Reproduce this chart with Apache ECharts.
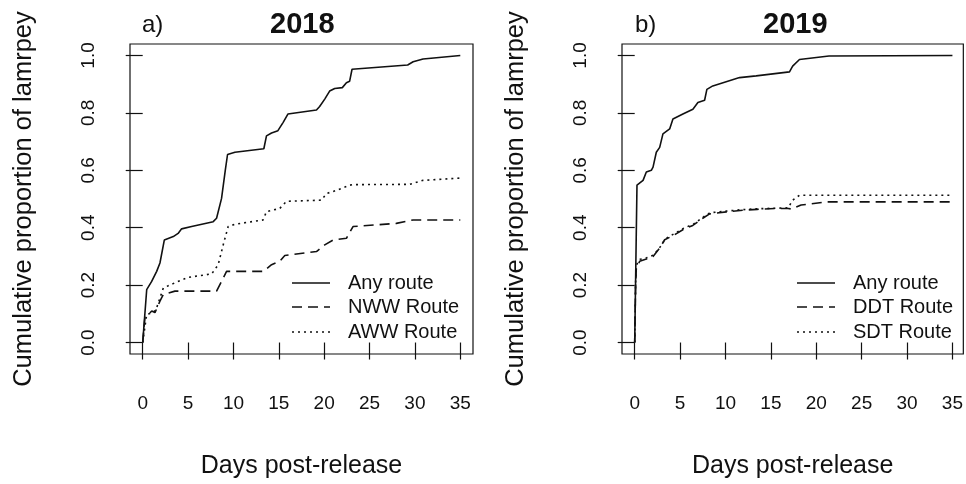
<!DOCTYPE html>
<html>
<head>
<meta charset="utf-8">
<script src="https://cdn.jsdelivr.net/npm/echarts@6/dist/echarts.min.js"></script>
<style>html,body{margin:0;padding:0;background:#fff;}#c{width:966px;height:484px;}</style>
</head>
<body>
<div id="c"></div>
<script>
// ---- data (days post-release, cumulative proportion) ----
const xTicks = [0, 5, 10, 15, 20, 25, 30, 35];
const yTicks = [0, 0.2, 0.4, 0.6, 0.8, 1.0];
const panelTitles = ['2018', '2019'];
const panelTags = ['a)', 'b)'];
const legend2018 = ['Any route', 'NWW Route', 'AWW Route'];
const legend2019 = ['Any route', 'DDT Route', 'SDT Route'];

const any18Days = [0, 0.44, 0.99, 1.54, 1.9, 2.38, 3.37, 3.9, 4.29, 5.39, 7.77, 8.14, 8.69, 9.1, 9.35, 10.16, 13.35, 13.64, 14.2, 14.9, 15.48, 16.0, 19.15, 19.5, 20.06, 20.6, 21.16, 22.0, 22.45, 22.8, 23.07, 29.2, 29.8, 30.9, 35];
const any18Vals = [0, 0.184, 0.213, 0.248, 0.277, 0.357, 0.369, 0.38, 0.396, 0.404, 0.421, 0.433, 0.502, 0.6, 0.655, 0.663, 0.675, 0.72, 0.73, 0.738, 0.767, 0.796, 0.81, 0.822, 0.848, 0.876, 0.885, 0.888, 0.905, 0.91, 0.952, 0.967, 0.978, 0.988, 1.0];

const nww18Days = [0, 0.25, 0.7, 1.0, 1.35, 1.9, 2.27, 3.55, 8.14, 8.69, 9.24, 13.3, 14.2, 15.1, 15.66, 19.15, 20.06, 20.98, 22.45, 23.18, 27.95, 29.8, 35];
const nww18Vals = [0, 0.09, 0.1, 0.11, 0.104, 0.144, 0.167, 0.179, 0.179, 0.213, 0.248, 0.248, 0.271, 0.283, 0.303, 0.317, 0.34, 0.357, 0.363, 0.404, 0.415, 0.427, 0.427];

const aww18Days = [0, 0.44, 1.17, 1.54, 2.27, 3.55, 5.02, 7.6, 8.32, 8.87, 9.42, 10.16, 13.27, 13.64, 15.1, 15.85, 19.7, 20.25, 21.35, 22.8, 23.1, 29.4, 30.9, 35];
const aww18Vals = [0, 0.098, 0.104, 0.121, 0.19, 0.208, 0.227, 0.239, 0.271, 0.34, 0.404, 0.412, 0.427, 0.456, 0.467, 0.492, 0.496, 0.519, 0.53, 0.548, 0.55, 0.551, 0.565, 0.573];

const any19Days = [0, 0.25, 0.92, 1.28, 1.83, 2.02, 2.38, 2.75, 3.11, 3.85, 4.21, 5.31, 6.41, 6.96, 7.7, 7.95, 8.6, 11.55, 13.38, 17.05, 17.4, 18.15, 21.4, 35];
const any19Vals = [0, 0.548, 0.565, 0.594, 0.6, 0.611, 0.663, 0.68, 0.727, 0.744, 0.779, 0.796, 0.813, 0.836, 0.844, 0.882, 0.894, 0.923, 0.929, 0.943, 0.963, 0.986, 0.998, 1.0];

const ddt19Days = [0, 0.1, 0.18, 0.55, 1.2, 2.02, 2.75, 3.3, 4.21, 5.3, 6.4, 7.5, 8.25, 10.1, 11.9, 13.5, 15.6, 16.9, 17.3, 18.33, 21.08, 35];
const ddt19Vals = [0, 0.2, 0.26, 0.283, 0.29, 0.3, 0.329, 0.358, 0.372, 0.393, 0.408, 0.433, 0.448, 0.455, 0.461, 0.464, 0.467, 0.467, 0.465, 0.479, 0.49, 0.49];

const sdt19Days = [0, 0.1, 0.18, 0.6, 1.3, 2.1, 2.8, 3.4, 4.3, 5.4, 6.5, 7.6, 8.3, 10.1, 11.9, 13.5, 15.6, 16.9, 17.4, 18.15, 35];
const sdt19Vals = [0, 0.21, 0.27, 0.29, 0.295, 0.305, 0.333, 0.362, 0.378, 0.398, 0.413, 0.438, 0.452, 0.458, 0.463, 0.466, 0.468, 0.469, 0.496, 0.513, 0.513];

// ---- helpers ----
const pairs = (xs, ys) => xs.map((x, i) => [x, ys[i]]);
const FONT = '"Liberation Sans", Arial, sans-serif';
const INK = '#111';

function xAxisFor(gi, max) {
  return {
    type: 'value', gridIndex: gi, min: -1.4, max: max,
    axisLine: { show: false },
    splitLine: { show: false },
    axisTick: { show: true, inside: false, length: 17, customValues: xTicks, lineStyle: { color: INK, width: 1.2 } },
    axisLabel: { customValues: xTicks, margin: 40, color: INK, fontSize: 19, fontFamily: FONT },
    name: 'Days post-release', nameLocation: 'middle', nameGap: 100,
    nameTextStyle: { color: INK, fontSize: 25, fontFamily: FONT }
  };
}
function yAxisFor(gi) {
  return {
    type: 'value', gridIndex: gi, min: -0.04, max: 1.04,
    axisLine: { show: false },
    splitLine: { show: false },
    axisTick: { show: true, inside: false, length: 17, customValues: yTicks, lineStyle: { color: INK, width: 1.2 } },
    axisLabel: { customValues: yTicks, rotate: 90, margin: 32, color: INK, fontSize: 19, fontFamily: FONT,
      formatter: v => Number(v).toFixed(1) },
    name: 'Cumulative proportion of lamrpey', nameLocation: 'middle', nameGap: 93,
    nameTextStyle: { color: INK, fontSize: 25.5, fontFamily: FONT }
  };
}
function lineSeries(gi, name, data, type) {
  return {
    type: 'line', name: name, xAxisIndex: gi, yAxisIndex: gi, data: data,
    symbol: 'none', smooth: false, animation: false,
    lineStyle: { color: INK, width: 1.6, type: type }
  };
}
const DASH = [10, 6];
const DOT = [2, 4];

function legendGraphics(x0, labels) {
  const ys = [283, 307, 332];
  const types = ['solid', DASH, DOT];
  const out = [];
  labels.forEach((lab, i) => {
    out.push({ type: 'line', shape: { x1: x0, y1: ys[i], x2: x0 + 38, y2: ys[i] },
      style: { stroke: INK, lineWidth: 1.6, lineDash: types[i] === 'solid' ? null : types[i] } });
    out.push({ type: 'text', x: x0 + 56, y: ys[i],
      style: { text: lab, fill: INK, font: '20px ' + FONT, textVerticalAlign: 'middle', verticalAlign: 'middle' } });
  });
  return out;
}

const chart = echarts.init(document.getElementById('c'), null, { renderer: 'canvas' });
chart.setOption({
  animation: false,
  backgroundColor: '#fff',
  title: [
    { text: panelTitles[0], left: 265, top: 5, textStyle: { fontSize: 29, fontWeight: 'bold', color: INK, fontFamily: FONT } },
    { text: panelTitles[1], left: 758, top: 5, textStyle: { fontSize: 29, fontWeight: 'bold', color: INK, fontFamily: FONT } },
    { text: panelTags[0], left: 137, top: 8, textStyle: { fontSize: 24, fontWeight: 'normal', color: INK, fontFamily: FONT } },
    { text: panelTags[1], left: 630, top: 8, textStyle: { fontSize: 24, fontWeight: 'normal', color: INK, fontFamily: FONT } }
  ],
  grid: [
    { left: 130, top: 44, width: 343, height: 312, show: true, borderColor: INK, borderWidth: 1.2, backgroundColor: 'transparent' },
    { left: 622, top: 44, width: 342, height: 312, show: true, borderColor: INK, borderWidth: 1.2, backgroundColor: 'transparent' }
  ],
  xAxis: [xAxisFor(0, 36.4), xAxisFor(1, 36.2)],
  yAxis: [yAxisFor(0), yAxisFor(1)],
  series: [
    lineSeries(0, legend2018[0], pairs(any18Days, any18Vals), 'solid'),
    lineSeries(0, legend2018[1], pairs(nww18Days, nww18Vals), DASH),
    lineSeries(0, legend2018[2], pairs(aww18Days, aww18Vals), DOT),
    lineSeries(1, legend2019[0], pairs(any19Days, any19Vals), 'solid'),
    lineSeries(1, legend2019[1], pairs(ddt19Days, ddt19Vals), DASH),
    lineSeries(1, legend2019[2], pairs(sdt19Days, sdt19Vals), DOT)
  ],
  graphic: legendGraphics(292, legend2018).concat(legendGraphics(797, legend2019))
});
</script>
</body>
</html>
